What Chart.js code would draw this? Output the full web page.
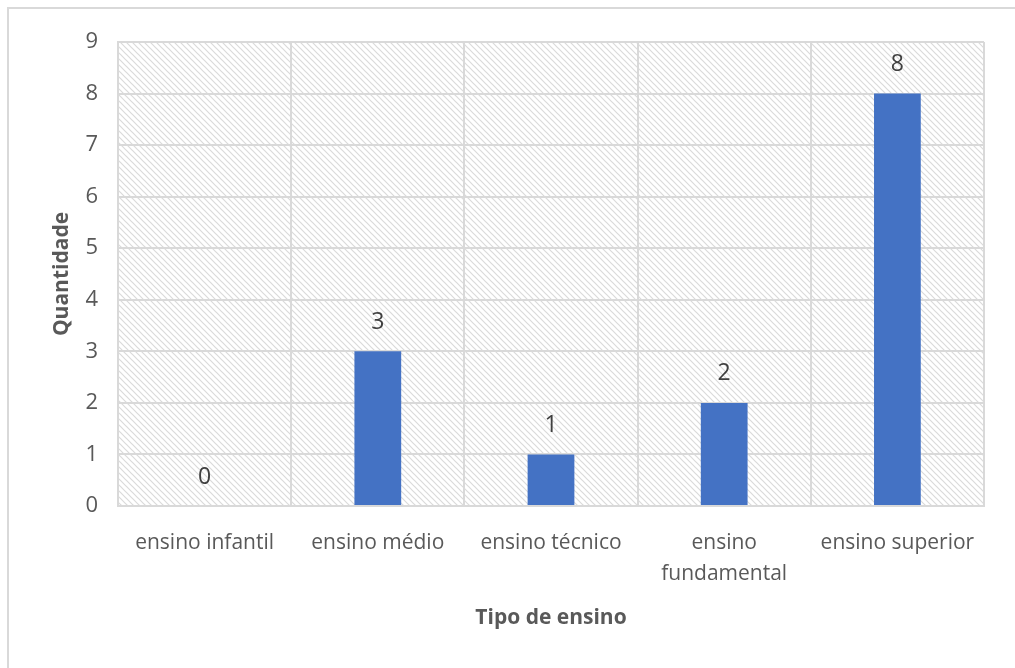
<!DOCTYPE html>
<html lang="pt">
<head>
<meta charset="UTF-8" />
<title>Tipo de ensino</title>
<script src="https://cdn.jsdelivr.net/npm/chart.js"></script>
<style>
  body { margin: 0; background: #fff; overflow: hidden; }
  #frame { position: absolute; left: 7px; top: 7px; width: 1006px; height: 700px; border: 2px solid #d9d9d9; }
  #wrap { position: absolute; left: 0; top: 0; width: 1015px; height: 668px; }
</style>
</head>
<body>
<div id="frame"></div>
<div id="wrap"><canvas id="chart"></canvas></div>

<script>
// data
const categorias = ['ensino infantil', 'ensino médio', 'ensino técnico', ['ensino', 'fundamental'], 'ensino superior'];
const quantidade = [0, 3, 1, 2, 8];
const yMin = 0;
const yMax = 9;
const yStep = 1;

const gray = '#d9d9d9';
const textGray = '#595959';
const fontFamily = "'Open Sans', 'Noto Sans', sans-serif";

// diagonal hatch for the plot background
function hatch() {
  const c = document.createElement('canvas');
  c.width = 6; c.height = 6;
  const g = c.getContext('2d');
  g.fillStyle = '#fff';
  g.fillRect(0, 0, 6, 6);
  g.strokeStyle = '#dadada';
  g.lineWidth = 1.2;
  g.beginPath();
  g.moveTo(-1, -1); g.lineTo(7, 7);
  g.moveTo(-4, 2); g.lineTo(2, 8);
  g.moveTo(2, -4); g.lineTo(8, 2);
  g.stroke();
  return g.createPattern(c, 'repeat');
}

const bgPlugin = {
  id: 'bgHatch',
  beforeDraw(chart) {
    const { ctx, chartArea: a } = chart;
    ctx.save();
    ctx.fillStyle = hatch();
    ctx.fillRect(a.left, a.top, a.right - a.left, a.bottom - a.top);
    ctx.restore();
  }
};

// value labels above the bars
const labelPlugin = {
  id: 'valueLabels',
  afterDatasetsDraw(chart) {
    const { ctx } = chart;
    const meta = chart.getDatasetMeta(0);
    ctx.save();
    ctx.font = '23px ' + fontFamily;
    ctx.fillStyle = '#404040';
    ctx.textAlign = 'center';
    ctx.textBaseline = 'middle';
    meta.data.forEach((bar, i) => {
      ctx.fillText(String(quantidade[i]), bar.x, bar.y - 29);
    });
    ctx.restore();
  }
};

new Chart(document.getElementById('chart'), {
  type: 'bar',
  data: {
    labels: categorias,
    datasets: [{
      label: 'Quantidade',
      data: quantidade,
      backgroundColor: '#4472c4',
      barPercentage: 0.27,
      categoryPercentage: 1
    }]
  },
  options: {
    responsive: true,
    maintainAspectRatio: false,
    animation: false,
    layout: { padding: { left: 40, top: 42, right: 31, bottom: 20 } },
    plugins: {
      legend: { display: false },
      tooltip: { enabled: false }
    },
    scales: {
      x: {
        grid: { color: gray, lineWidth: 2, drawTicks: false, offset: true },
        border: { color: gray, width: 2 },
        ticks: { color: textGray, padding: 21, maxRotation: 0, autoSkip: false, font: { family: fontFamily, size: 21, lineHeight: 1.5 } },
        title: { display: true, text: 'Tipo de ensino', color: textGray, padding: { top: 0, bottom: 17 }, font: { family: fontFamily, size: 21, weight: 'bold' } },
        afterFit(scale) { scale.height = 668 - 20 - 506; }
      },
      y: {
        min: yMin,
        max: yMax,
        grid: { color: gray, lineWidth: 2, drawTicks: false },
        border: { color: gray, width: 2 },
        ticks: { stepSize: yStep, color: textGray, padding: 20, font: { family: fontFamily, size: 22 } },
        title: { display: true, text: 'Quantidade', color: textGray, padding: { top: 9, bottom: 0 }, font: { family: fontFamily, size: 21, weight: 'bold' } },
        afterFit(scale) { scale.width = 118 - 40; }
      }
    }
  },
  plugins: [bgPlugin, labelPlugin]
});
</script>
</body>
</html>
